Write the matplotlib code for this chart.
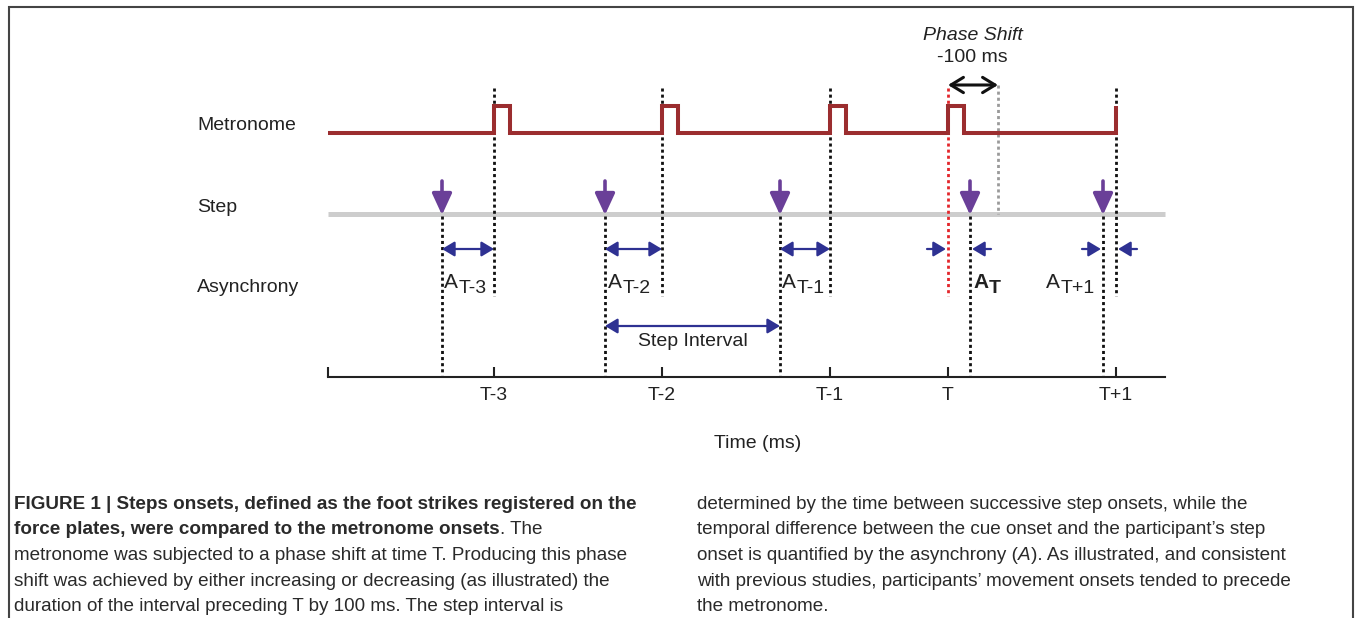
"""Schéma : onsets du métronome vs foot strikes, asynchronies et phase shift à T."""
import matplotlib
matplotlib.use("Agg")
import matplotlib.pyplot as plt
from matplotlib import font_manager

W, H = 1355, 618

# --- données du schéma (ms, onset T-3 = 0) ---
cue_labels = ["T-3", "T-2", "T-1", "T", "T+1"]
cue_ms = [0, 336, 672, 908, 1244]        # T avancé de 100 ms
unshifted_T_ms = 1008                    # où T serait tombé sans phase shift
step_ms = [-104, 222, 572, 952, 1218]    # foot strikes
async_subs = ["T-3", "T-2", "T-1", "T", "T+1"]
async_bold = [False, False, False, True, False]
pulse_ms = 32
time_range_ms = (-332, 1342)
shift_title = "Phase Shift"
shift_label = "-100 ms"

caption_left = [
    [("FIGURE 1 | Steps onsets, defined as the foot strikes registered on the", "bold")],
    [("force plates, were compared to the metronome onsets", "bold"), (". The", "normal")],
    [("metronome was subjected to a phase shift at time T. Producing this phase", "normal")],
    [("shift was achieved by either increasing or decreasing (as illustrated) the", "normal")],
    [("duration of the interval preceding T by 100 ms. The step interval is", "normal")],
]
caption_right = [
    [("determined by the time between successive step onsets, while the", "normal")],
    [("temporal difference between the cue onset and the participant\u2019s step", "normal")],
    [("onset is quantified by the asynchrony (", "normal"), ("A", "italic"),
     ("). As illustrated, and consistent", "normal")],
    [("with previous studies, participants\u2019 movement onsets tended to precede", "normal")],
    [("the metronome.", "normal")],
]

# --- mise en page (pixels) ---
X0_PX, MS_PER_PX = 494, 2.0
Y_MET_LOW, Y_MET_HIGH = 133, 106
Y_STEP = 214
Y_ASYNC = 249
Y_INTERVAL = 326
Y_AXIS = 377

MET_C = "#9B2D2F"
STEP_C = "#CDCDCD"
PURPLE = "#6A3F98"
NAVY = "#2E3192"
RED = "#E3262B"
GREY = "#9A9A9A"
TXT = "#222222"

names = {f.name for f in font_manager.fontManager.ttflist}
narrow = "Liberation Sans Narrow" in names
cap_family = ["Liberation Sans Narrow", "Liberation Sans", "DejaVu Sans"] if narrow \
    else ["Liberation Sans", "DejaVu Sans"]
cap_size = 16.3 if narrow else 13.6

plt.rcParams["font.family"] = ["Liberation Sans", "DejaVu Sans"]


def fx(px):
    return px / W


def fy(py):
    return 1 - py / H


def ms(px):
    return (px - X0_PX) * MS_PER_PX


fig = plt.figure(figsize=(W / 100, H / 100), dpi=100)
ax = fig.add_axes([0, 0, 1, 1])
ax.set_xlim(ms(0), ms(W))
ax.set_ylim(H, 0)
ax.axis("off")

# cadre
lay = fig.add_axes([0, 0, 1, 1], zorder=-1)
lay.set_xlim(0, W)
lay.set_ylim(H, 0)
lay.axis("off")
lay.plot([9, 9, 1353, 1353], [H, 7, 7, H], color="#444444", lw=1.5,
         solid_joinstyle="miter")

# libellés des lignes
for label, y in [("Metronome", 125), ("Step", 207), ("Asynchrony", 288)]:
    fig.text(fx(197), fy(y), label, fontsize=14, va="center", ha="left", color=TXT)

# métronome
xs, ys = [time_range_ms[0]], [Y_MET_LOW]
for i, c in enumerate(cue_ms):
    xs += [c, c]
    ys += [Y_MET_LOW, Y_MET_HIGH]
    if i < len(cue_ms) - 1:
        xs += [c + pulse_ms, c + pulse_ms]
        ys += [Y_MET_HIGH, Y_MET_LOW]
ax.plot(xs, ys, color=MET_C, lw=2.9, solid_joinstyle="miter", solid_capstyle="butt", zorder=3)

# ligne des pas
ax.plot(time_range_ms, [Y_STEP, Y_STEP], color=STEP_C, lw=3.6, solid_capstyle="butt", zorder=1)

dots = (0, (1.1, 1.1))
# verticales des cues
for lab, c in zip(cue_labels, cue_ms):
    ax.plot([c, c], [88, 296], color=RED if lab == "T" else "#111111", lw=2.0,
            ls=dots, zorder=2)
ax.plot([unshifted_T_ms] * 2, [85, Y_STEP], color=GREY, lw=2.0, ls=dots, zorder=2)

# verticales des pas + flèches violettes
for s in step_ms:
    ax.plot([s, s], [Y_STEP + 2, Y_AXIS - 2], color="#111111", lw=2.0, ls=dots, zorder=2)
    ax.annotate("", xy=(s, Y_STEP + 1), xytext=(s, 181),
                arrowprops=dict(arrowstyle="-|>,head_length=1.3,head_width=0.6",
                                color=PURPLE, lw=2.6, mutation_scale=10,
                                shrinkA=0, shrinkB=0), zorder=4)

# phase shift
ax.annotate("", xy=(cue_ms[3], 85), xytext=(unshifted_T_ms, 85),
            arrowprops=dict(arrowstyle="<->,head_length=0.9,head_width=0.55",
                            color="#111111", lw=2.2, mutation_scale=10,
                            shrinkA=0, shrinkB=0))
fig.text(fx(973), fy(35), shift_title, fontsize=14, style="italic", ha="center",
         va="center", color=TXT)
fig.text(fx(972), fy(58), shift_label, fontsize=14, ha="center", va="center", color=TXT)

# asynchronies
dbl = dict(arrowstyle="<|-|>,head_length=0.75,head_width=0.45", color=NAVY,
           lw=1.6, mutation_scale=10, shrinkA=0, shrinkB=0)
one = dict(arrowstyle="-|>,head_length=0.75,head_width=0.45", color=NAVY,
           lw=1.6, mutation_scale=10, shrinkA=0, shrinkB=1.5)
label_dx = [4, 6, 4, 6, -114]  # ms, position du "A" par rapport au pas
for c, s, sub, bold, dx in zip(cue_ms, step_ms, async_subs, async_bold, label_dx):
    lo, hi = min(c, s), max(c, s)
    if hi - lo > 60:
        ax.annotate("", xy=(lo, Y_ASYNC), xytext=(hi, Y_ASYNC), arrowprops=dbl)
    else:
        ax.annotate("", xy=(lo, Y_ASYNC), xytext=(lo - 42, Y_ASYNC), arrowprops=one)
        ax.annotate("", xy=(hi, Y_ASYNC), xytext=(hi + 42, Y_ASYNC), arrowprops=one)
    w = "bold" if bold else "normal"
    a = ax.text(s + dx, 288, "A", fontsize=15, fontweight=w, ha="left",
                va="baseline", color=TXT)
    ax.annotate(sub, xy=(1, 0), xycoords=a, xytext=(0.3, -3.5),
                textcoords="offset points", fontsize=14, fontweight=w,
                ha="left", va="bottom", color=TXT)

# step interval
ax.annotate("", xy=(step_ms[1], Y_INTERVAL), xytext=(step_ms[2], Y_INTERVAL), arrowprops=dbl)
fig.text(fx(693), fy(342), "Step Interval", fontsize=14, ha="center", va="center", color=TXT)

# axe du temps
x_left, x_right = 328, 1165
tax = fig.add_axes([fx(x_left), fy(Y_AXIS), (x_right - x_left) / W, 40 / H])
tax.set_xlim(time_range_ms)
tax.set_ylim(0, 1)
tax.patch.set_alpha(0)
for side in ["top", "left", "right"]:
    tax.spines[side].set_visible(False)
tax.spines["bottom"].set_linewidth(1.5)
tax.spines["bottom"].set_color(TXT)
tax.set_yticks([])
tax.set_xticks(cue_ms, cue_labels)
tax.set_xticks([time_range_ms[0]], minor=True)
tax.tick_params(axis="x", which="both", direction="in", length=7, width=1.5,
                color=TXT, labelsize=14, pad=7, labelcolor=TXT)
tax.set_xlabel("Time (ms)", fontsize=14, color=TXT)
tax.xaxis.set_label_coords((758 - x_left) / (x_right - x_left), -66 / 40)
tax.xaxis.label.set_va("center")

# légende de la figure
line_y = [509, 534.5, 560, 585.5, 611]
for col_x, lines in [(14, caption_left), (697, caption_right)]:
    for y, parts in zip(line_y, lines):
        prev = None
        for txt, kind in parts:
            kw = dict(fontsize=cap_size, family=cap_family, color="#2a2a2a",
                      fontweight="bold" if kind == "bold" else "normal",
                      style="italic" if kind == "italic" else "normal")
            if prev is None:
                prev = lay.text(col_x, y, txt, ha="left", va="baseline", **kw)
            else:
                prev = lay.annotate(txt, xy=(1, 0), xycoords=prev, ha="left",
                                    va="bottom", **kw)

fig.savefig("out.png", dpi=100)
